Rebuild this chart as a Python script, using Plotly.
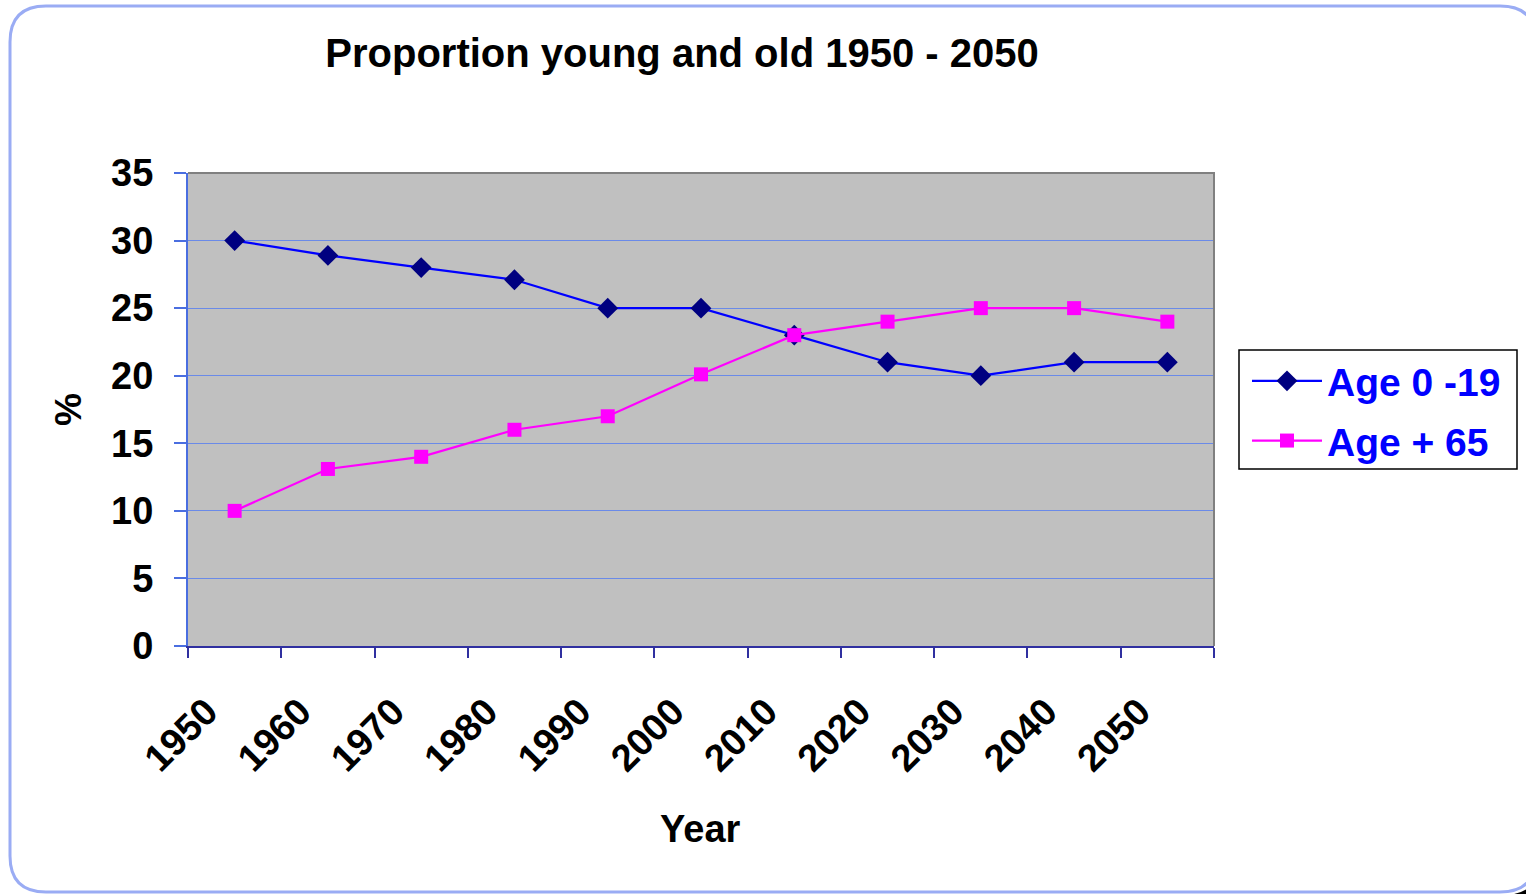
import plotly.graph_objects as go

# Data: share of population by age group (%)
years = ["1950", "1960", "1970", "1980", "1990", "2000", "2010", "2020", "2030", "2040", "2050"]
age_0_19 = [30, 28.9, 28, 27.1, 25, 25, 23, 21, 20, 21, 21]
age_65_plus = [10, 13.1, 14, 16, 17, 20.1, 23, 24, 25, 25, 24]

W, H = 1526, 894
L, R, T, B = 188, 1214, 173, 646
FONT = "Liberation Sans, Arial, sans-serif"


def px(x):
    return (x - L) / (R - L)


def py(y):
    return (B - y) / (B - T)


fig = go.Figure()
fig.add_trace(go.Scatter(
    x=years, y=age_0_19, name="Age 0 -19", mode="lines+markers",
    legendgroup="young",
    line=dict(color="#0000ff", width=2.2),
    marker=dict(symbol="diamond", size=16, color="#000080"),
))
fig.add_trace(go.Scatter(
    x=years, y=age_65_plus, name="Age + 65", mode="lines+markers",
    legendgroup="old",
    line=dict(color="#ff00ff", width=2.2),
    marker=dict(symbol="square", size=14, color="#ff00ff"),
))

shapes = []
# dark shadow peeking out at the lower-right corner
shadow = (f"M {px(1503)},{py(895)} Q {px(1540)},{py(895)} {px(1540)},{py(858)} "
          f"L {px(1540)},{py(895)} Z")
shapes.append(dict(type="path", xref="paper", yref="paper", path=shadow,
                   fillcolor="#000000", line=dict(width=0), layer="below"))
# outer rounded frame
x0, y0, x1, y1, r = 10, 6, 1536, 892, 36
frame = (f"M {px(x0+r)},{py(y0)} L {px(x1-r)},{py(y0)} "
         f"Q {px(x1)},{py(y0)} {px(x1)},{py(y0+r)} "
         f"L {px(x1)},{py(y1-r)} Q {px(x1)},{py(y1)} {px(x1-r)},{py(y1)} "
         f"L {px(x0+r)},{py(y1)} Q {px(x0)},{py(y1)} {px(x0)},{py(y1-r)} "
         f"L {px(x0)},{py(y0+r)} Q {px(x0)},{py(y0)} {px(x0+r)},{py(y0)} Z")
shapes.append(dict(type="path", xref="paper", yref="paper", path=frame,
                   line=dict(color="#9aacf4", width=3), layer="below"))
# plot-area border (top and right edges)
shapes.append(dict(type="path", xref="paper", yref="paper",
                   path="M 0,1 L 1,1 L 1,0", line=dict(color="#808080", width=2)))
# legend box
shapes.append(dict(type="rect", xref="paper", yref="paper",
                   x0=px(1239), x1=px(1517), y0=py(469), y1=py(350),
                   fillcolor="white", line=dict(color="black", width=1.5),
                   layer="below"))

fig.update_layout(
    width=W, height=H, autosize=False,
    margin=dict(l=L, r=W - R, t=T, b=H - B, pad=0),
    paper_bgcolor="white", plot_bgcolor="#c0c0c0",
    font=dict(family=FONT, size=38, color="black"),
    title=dict(text="<b>Proportion young and old 1950 - 2050</b>",
               x=682 / W, xanchor="center", y=1 - 53 / H, yanchor="middle",
               font=dict(size=40)),
    showlegend=True,
    legend=dict(
        x=px(1247), y=py(349), xanchor="left", yanchor="top",
        bgcolor="rgba(0,0,0,0)", borderwidth=0,
        font=dict(size=39, color="#0000ff", family=FONT, weight="bold"),
        itemwidth=70, tracegroupgap=6,
    ),
    shapes=shapes,
    annotations=[
        dict(text="<b>Year</b>", x=px(700), y=py(829), xref="paper", yref="paper",
             xanchor="center", yanchor="middle",
             showarrow=False, font=dict(size=38)),
        dict(text="<b>%</b>", x=px(68), y=py(410), xref="paper", yref="paper",
             xanchor="center", yanchor="middle",
             showarrow=False, textangle=-90, font=dict(size=37)),
    ],
)

fig.update_xaxes(
    type="category", tickson="boundaries", ticks="outside", ticklen=10,
    tickcolor="#3030a0", tickwidth=1.5,
    showline=True, linecolor="#3030a0", linewidth=2,
    showgrid=False, zeroline=False, tickangle=-45,
    tickfont=dict(size=38, weight="bold"),
    ticklabelstandoff=26, ticklabelshift=-28,
    range=[-0.5, 10.5],
)
fig.update_yaxes(
    range=[0, 35], dtick=5, ticks="outside", ticklen=12,
    tickcolor="#4a6ee0", tickwidth=1.5,
    showline=True, linecolor="#4a6ee0", linewidth=2,
    showgrid=True, gridcolor="#6a8ae8", gridwidth=1, zeroline=False,
    tickfont=dict(size=38, weight="bold"), ticklabelstandoff=13,
)

fig.write_html("out.html")
